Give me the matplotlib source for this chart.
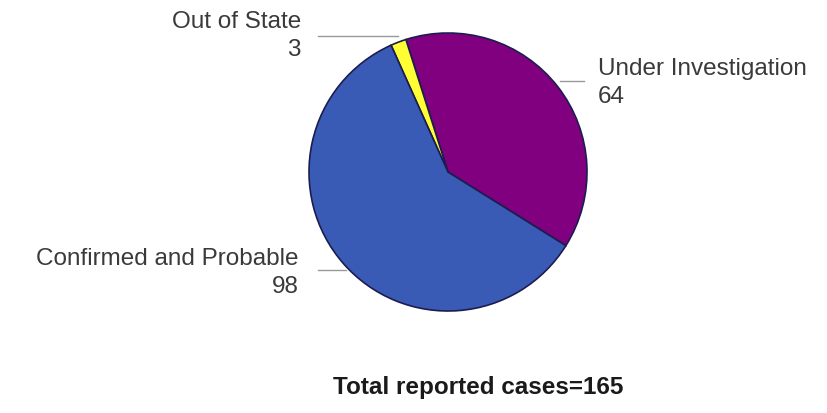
import matplotlib
matplotlib.use('Agg')
from matplotlib import pyplot as plt

# case counts by category
categories = ['Under Investigation', 'Out of State', 'Confirmed and Probable']
counts = [64, 3, 98]
colors = ['#800080', '#ffff33', '#3a5bb5']
total = sum(counts)

plt.rcParams['font.family'] = ['Liberation Sans', 'DejaVu Sans']

fig = plt.figure(figsize=(8.27, 4.14), dpi=100)
ax = fig.add_axes([0, 0, 1, 1])

# pie in pixel coords (y axis flipped, so counterclock=False draws anticlockwise on screen)
wedges, _ = ax.pie(counts, colors=colors, startangle=32, counterclock=False,
                   center=(448, 173), radius=139, frame=True,
                   wedgeprops=dict(edgecolor='#1c1c50', linewidth=1.2))
ax.set_xlim(0, 827)
ax.set_ylim(414, 0)
ax.set_aspect('equal')
ax.axis('off')

txt = '#3a3a3a'
fs = 17.5

# labels with short leader lines
ax.text(598, 83, f'{categories[0]}\n{counts[0]}', ha='left', va='center',
        fontsize=fs, color=txt, linespacing=1.35)
ax.plot([560, 584], [82, 82], color='#999999', lw=1)

ax.text(301, 36, f'{categories[1]}\n{counts[1]}', ha='right', va='center',
        fontsize=fs, color=txt, linespacing=1.35, multialignment='right')
ax.plot([318, 398], [37, 37], color='#999999', lw=1)

ax.text(299, 273, f'{categories[2]}\n{counts[2]}', ha='right', va='center',
        fontsize=fs, color=txt, linespacing=1.35, multialignment='right')
ax.plot([318, 346], [271, 271], color='#999999', lw=1)

ax.text(478, 388, f'Total reported cases={total}', ha='center', va='center',
        fontsize=17.5, fontweight='bold', color='#1a1a1a')

fig.savefig('out.png', dpi=100)
